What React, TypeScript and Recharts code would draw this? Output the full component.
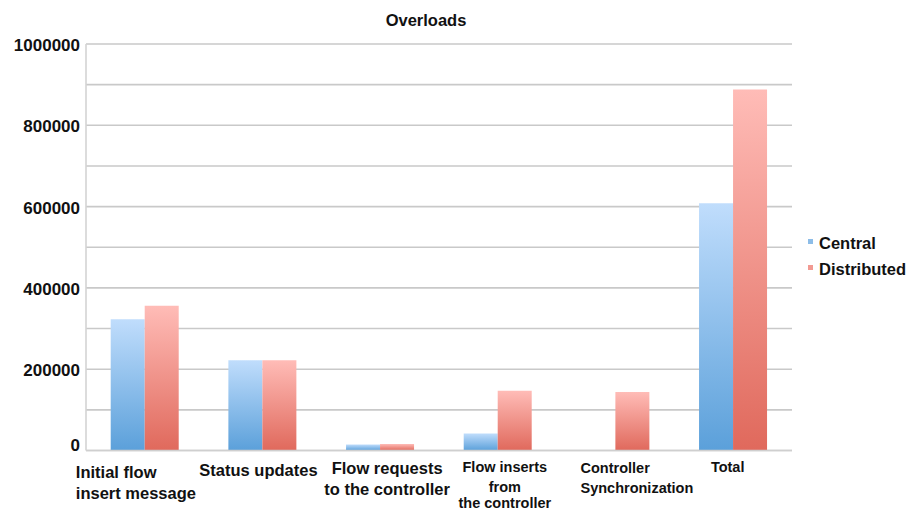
import React from "react";
import { BarChart, Bar, XAxis, YAxis, CartesianGrid } from "recharts";

const CATEGORIES = [
  "Initial flow insert message",
  "Status updates",
  "Flow requests to the controller",
  "Flow inserts from the controller",
  "Controller Synchronization",
  "Total",
];

const TICK_LINES = [
  ["Initial flow", "insert message"],
  ["Status updates"],
  ["Flow requests", "to the controller"],
  ["Flow inserts", "from", "the controller"],
  ["Controller", "Synchronization"],
  ["Total"],
];

const CENTRAL = [323000, 222000, 15000, 42000, 0, 608000];
const DISTRIBUTED = [356000, 222000, 16000, 147000, 144000, 888000];

const Y_TICKS = [0, 200000, 400000, 600000, 800000, 1000000];
const GRID_VALUES = [0, 100000, 200000, 300000, 400000, 500000, 600000, 700000, 800000, 900000, 1000000];

const SERIES = [
  { key: "central", label: "Central", color: "#8dbde8" },
  { key: "distributed", label: "Distributed", color: "#f29a92" },
];

const data = CATEGORIES.map((name, i) => ({
  name,
  central: CENTRAL[i],
  distributed: DISTRIBUTED[i],
}));

const FONT = "'Liberation Sans', Arial, sans-serif";

// per-category label layout: size, anchor, x shift, baseline offsets
const TICK_STYLE = [
  { size: 16.5, anchor: "start", dx: -69, dy: [27, 48.5] },
  { size: 16.5, anchor: "middle", dx: -4, dy: [25.5] },
  { size: 16.5, anchor: "middle", dx: 7, dy: [23.5, 44.5] },
  { size: 14.5, anchor: "middle", dx: 7, dy: [21, 41, 57.5] },
  { size: 14.5, anchor: "start", dx: -35, dy: [22.5, 42.5] },
  { size: 14.5, anchor: "middle", dx: -5.5, dy: [21] },
];

const CategoryTick = (props: any) => {
  const { x, payload } = props;
  const i = payload.index;
  const st = TICK_STYLE[i];
  const baseY = 450.5;
  return (
    <g>
      {TICK_LINES[i].map((line, k) => (
        <text
          key={k}
          x={x + st.dx}
          y={baseY + st.dy[k]}
          textAnchor={st.anchor}
          fontFamily={FONT}
          fontWeight="bold"
          fontSize={st.size}
          fill="#111"
        >
          {line}
        </text>
      ))}
    </g>
  );
};

const ValueTick = (props: any) => {
  const { y, payload } = props;
  // the zero label sits a little above the baseline
  const shift = payload.value === 0 ? 0 : 7;
  return (
    <text x={80} y={y + shift} textAnchor="end" fontFamily={FONT} fontWeight="bold" fontSize={17} fill="#111">
      {payload.value}
    </text>
  );
};

export default function App() {
  return (
    <div style={{ position: "absolute", left: 0, top: 0, width: 909, height: 511, background: "#fff" }}>
      <div
        style={{
          position: "absolute",
          left: 0,
          top: 11,
          width: 852,
          textAlign: "center",
          fontFamily: FONT,
          fontWeight: "bold",
          fontSize: 16.5,
          color: "#111",
        }}
      >
        Overloads
      </div>
      <BarChart
        width={909}
        height={511}
        data={data}
        margin={{ top: 44, right: 117, bottom: 0, left: 0 }}
        barCategoryGap="21%"
        barGap={0}
      >
        <defs>
          <linearGradient id="gradCentral" x1="0" y1="0" x2="0" y2="1">
            <stop offset="0%" stopColor="#c0ddfc" />
            <stop offset="100%" stopColor="#5ba0da" />
          </linearGradient>
          <linearGradient id="gradDistributed" x1="0" y1="0" x2="0" y2="1">
            <stop offset="0%" stopColor="#ffbcb7" />
            <stop offset="100%" stopColor="#e0695c" />
          </linearGradient>
        </defs>
        <CartesianGrid
          vertical={false}
          horizontalValues={GRID_VALUES}
          stroke="#c9c9c9"
          strokeWidth={1.6}
        />
        <XAxis
          dataKey="name"
          height={60.5}
          interval={0}
          tickLine={false}
          axisLine={{ stroke: "#cfcfcf", strokeWidth: 1.6 }}
          tick={<CategoryTick />}
        />
        <YAxis
          width={86}
          domain={[0, 1000000]}
          ticks={Y_TICKS}
          tickLine={false}
          axisLine={{ stroke: "#d4d4d4", strokeWidth: 1.6 }}
          tick={<ValueTick />}
        />
        <Bar dataKey="central" name="Central" fill="url(#gradCentral)" isAnimationActive={false} />
        <Bar dataKey="distributed" name="Distributed" fill="url(#gradDistributed)" isAnimationActive={false} />
      </BarChart>
      <div
        style={{
          position: "absolute",
          left: 808,
          top: 230,
          fontFamily: FONT,
          fontWeight: "bold",
          fontSize: 16.5,
          color: "#111",
        }}
      >
        {SERIES.map((s) => (
          <div key={s.key} style={{ display: "flex", alignItems: "center", height: 26 }}>
            <span style={{ width: 5, height: 5, background: s.color, marginRight: 6, marginTop: -4 }} />
            {s.label}
          </div>
        ))}
      </div>
    </div>
  );
}
